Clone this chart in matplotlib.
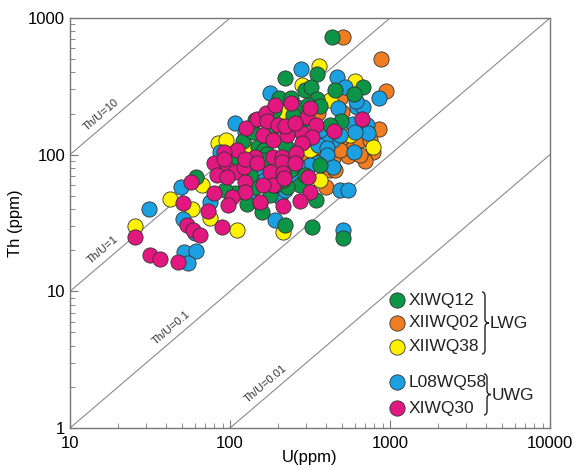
import numpy as np
import matplotlib
matplotlib.use("Agg")
import matplotlib.pyplot as plt
from matplotlib.path import Path
from matplotlib.patches import PathPatch

plt.rcParams['font.family'] = ['Liberation Sans', 'DejaVu Sans']

# U (ppm) / Th (ppm) by sample
xiwq12_u = [434, 350, 221, 678, 596, 294, 321, 202, 241, 262, 188, 350, 365, 453, 248, 494, 307,
            121, 150, 163, 170, 161, 107, 139, 274, 107, 128, 154, 345, 158, 221, 325, 508, 61.3,
            93, 143, 227, 214, 178, 178, 221, 133, 237, 191, 294, 365, 143, 274, 422]
xiwq12_th = [725, 389, 363, 312, 277, 297, 312, 259, 259, 223, 212, 255, 227, 297, 195, 176, 231,
             126, 114, 108, 101, 91, 91, 146, 60, 52, 43.5, 44.3, 46.5, 38, 30.5, 29.5, 24.5, 68.6,
             55, 58, 58, 65, 50.6, 144, 117, 71, 77, 60, 71, 84, 179, 165, 165]

xiiwq02_u = [508, 879, 944, 487, 853, 538, 587, 783, 698, 422, 350, 307, 398, 355, 546, 441, 355,
             422, 649, 501, 487, 649, 453, 750]
xiiwq02_th = [725, 500, 292, 259, 154, 122, 112, 104, 90, 85, 103, 99, 58, 88, 98, 94, 201,
              77, 128, 205, 108, 99, 77, 128]

xiiwq38_u = [360, 604, 282, 422, 562, 783, 214, 84, 128, 66.8, 42.2, 57.9, 75, 25.5, 111, 221,
             365, 139, 94.4, 178, 237, 316]
xiiwq38_th = [445, 345, 323, 251, 139, 114, 27.2, 122, 112, 60, 47.3, 40, 34.4, 30, 28.1, 205,
              65.2, 82.6, 128, 179, 151, 108]

l08wq58_u = [278, 467, 523, 853, 178, 473, 622, 678, 107, 587, 718, 729, 441, 487, 392, 355, 404,
             596, 404, 441, 350, 316, 154, 262, 487, 546, 191, 508, 49.4, 31.2, 75, 50.8, 60.4,
             51.6, 61.3, 54.6, 86.6, 124, 262, 205, 604, 613, 165, 178, 237, 294, 365, 274, 221,
             133]
l08wq58_th = [423, 370, 312, 259, 282, 219, 223, 223, 170, 167, 165, 144, 128, 139, 128, 117, 112,
              104, 99, 81, 86.8, 84, 79.8, 84, 55, 55, 33.2, 28.1, 58, 40, 45, 33.8, 26.7,
              19.4, 19.7, 16.1, 104, 146, 67.4, 49, 146, 247, 65, 55, 108, 128, 151, 195, 55,
              46.5]

xiwq30_u = [241, 303, 316, 147, 168, 126, 170, 200, 345, 668, 447, 161, 186, 227, 282, 325, 282,
            111, 91.7, 186, 211, 211, 79.4, 95.8, 107, 122, 143, 83, 95.8, 124, 178, 214, 307,
            316, 186, 161, 124, 103, 79.4, 154, 214, 274, 57, 50.8, 72.9, 89, 53.8, 58.7, 64.9,
            25.5, 31.6, 36.5, 47.3, 191, 221, 255, 258, 255, 97.2, 218, 124, 147, 91.7]
xiwq30_th = [239, 188, 219, 182, 201, 157, 176, 165, 165, 182, 149, 139, 128, 139, 144, 135, 122,
             108, 104, 96, 96, 88, 86.7, 79.8, 74.6, 81, 96, 71, 68.6, 63, 74.6, 73.4, 68.6,
             53.3, 60, 60, 53.3, 49, 52.4, 45, 42, 45.8, 63, 44.3, 38.7, 29.5, 30.5, 28.1, 25.8,
             25, 18.4, 17.2, 16.4, 231, 162, 170, 103, 86.8, 42.8, 67.4, 92.9, 86.8, 92.9]

ratios = [10, 1, 0.1, 0.01]
ratio_labels = ['Th/U=10', 'Th/U=1', 'Th/U=0.1', 'Th/U=0.01']
label_u = [16.3, 16.8, 45, 175]

names = ['XIWQ12', 'XIIWQ02', 'XIIWQ38', 'L08WQ58', 'XIWQ30']
colors = ['#0c9447', '#ef7d22', '#fff200', '#1ba1e2', '#e2177f']

fig = plt.figure(figsize=(5.8, 4.7), dpi=100)
ax = fig.add_axes([70 / 580, 1 - 428 / 470, 480 / 580, 410 / 470])
ax.set_xscale('log')
ax.set_yscale('log')
ax.set_xlim(10, 10000)
ax.set_ylim(1, 1000)

# reference lines
uu = np.array([10, 10000])
for r, lab, ul in zip(ratios, ratio_labels, label_u):
    ax.plot(uu, uu * r, color='#8a8a8a', lw=0.8, zorder=1)
    p1 = ax.transData.transform((10, 10 * r))
    p2 = ax.transData.transform((100, 100 * r))
    ang = np.degrees(np.arctan2(p2[1] - p1[1], p2[0] - p1[0]))
    ax.text(ul, ul * r * 1.12, lab, rotation=ang, rotation_mode='anchor',
            ha='center', va='bottom', fontsize=8, color='#333333', zorder=2)

series = [(xiiwq02_u, xiiwq02_th, 1), (xiiwq38_u, xiiwq38_th, 2),
          (l08wq58_u, l08wq58_th, 3), (xiwq12_u, xiwq12_th, 0), (xiwq30_u, xiwq30_th, 4)]
for u, th, k in series:
    ax.scatter(u, th, s=120, color=colors[k], edgecolors='#333333', linewidths=0.6, zorder=3)

ax.xaxis.set_major_formatter(plt.FuncFormatter(lambda v, p: '%g' % v))
ax.yaxis.set_major_formatter(plt.FuncFormatter(lambda v, p: '%g' % v))
ax.tick_params(which='both', direction='in', colors='#777777', labelcolor='black', labelsize=12)
ax.tick_params(which='major', length=6)
ax.tick_params(which='minor', length=3.5)
ax.tick_params(axis='x', pad=6)
for s in ax.spines.values():
    s.set_color('#777777')
    s.set_linewidth(1.0)
ax.set_xlabel('U(ppm)', fontsize=12, labelpad=-1)
ax.set_ylabel('Th (ppm)', fontsize=12, labelpad=4)

# custom legend (figure pixel positions)
def fx(px):
    return px / 580

def fy(py):
    return 1 - py / 470

leg_y = [300, 323, 347, 382, 408]
for name, c, y in zip(names, colors, leg_y):
    fig.add_artist(plt.Line2D([fx(397)], [fy(y)], marker='o', markersize=11,
                              markerfacecolor=c, markeredgecolor='#333333', markeredgewidth=0.6,
                              linestyle='none'))
    fig.text(fx(409), fy(y), name, fontsize=12.5, va='center', ha='left', color='#222222')

def brace(x0, ytop, ybot):
    ym = (ytop + ybot) / 2
    pts = [(x0 - 2, ytop), (x0 + 1, ytop), (x0 + 1, ytop + 4),
           (x0 + 1, ym - 4), (x0 + 1, ym), (x0 + 5, ym),
           (x0 + 1, ym), (x0 + 1, ym + 4),
           (x0 + 1, ybot - 4), (x0 + 1, ybot), (x0 - 2, ybot)]
    codes = [Path.MOVETO, Path.CURVE3, Path.CURVE3,
             Path.LINETO, Path.CURVE3, Path.CURVE3,
             Path.CURVE3, Path.CURVE3,
             Path.LINETO, Path.CURVE3, Path.CURVE3]
    verts = [(fx(a), fy(b)) for a, b in pts]
    fig.add_artist(PathPatch(Path(verts, codes), transform=fig.transFigure,
                             fill=False, lw=1.0, edgecolor='#222222'))

brace(484, 292, 354)
brace(486, 374, 415)
fig.text(fx(490), fy(324), 'LWG', fontsize=12.5, va='center', ha='left', color='#222222')
fig.text(fx(492), fy(396), 'UWG', fontsize=12.5, va='center', ha='left', color='#222222')

fig.savefig('out.png', dpi=100)
